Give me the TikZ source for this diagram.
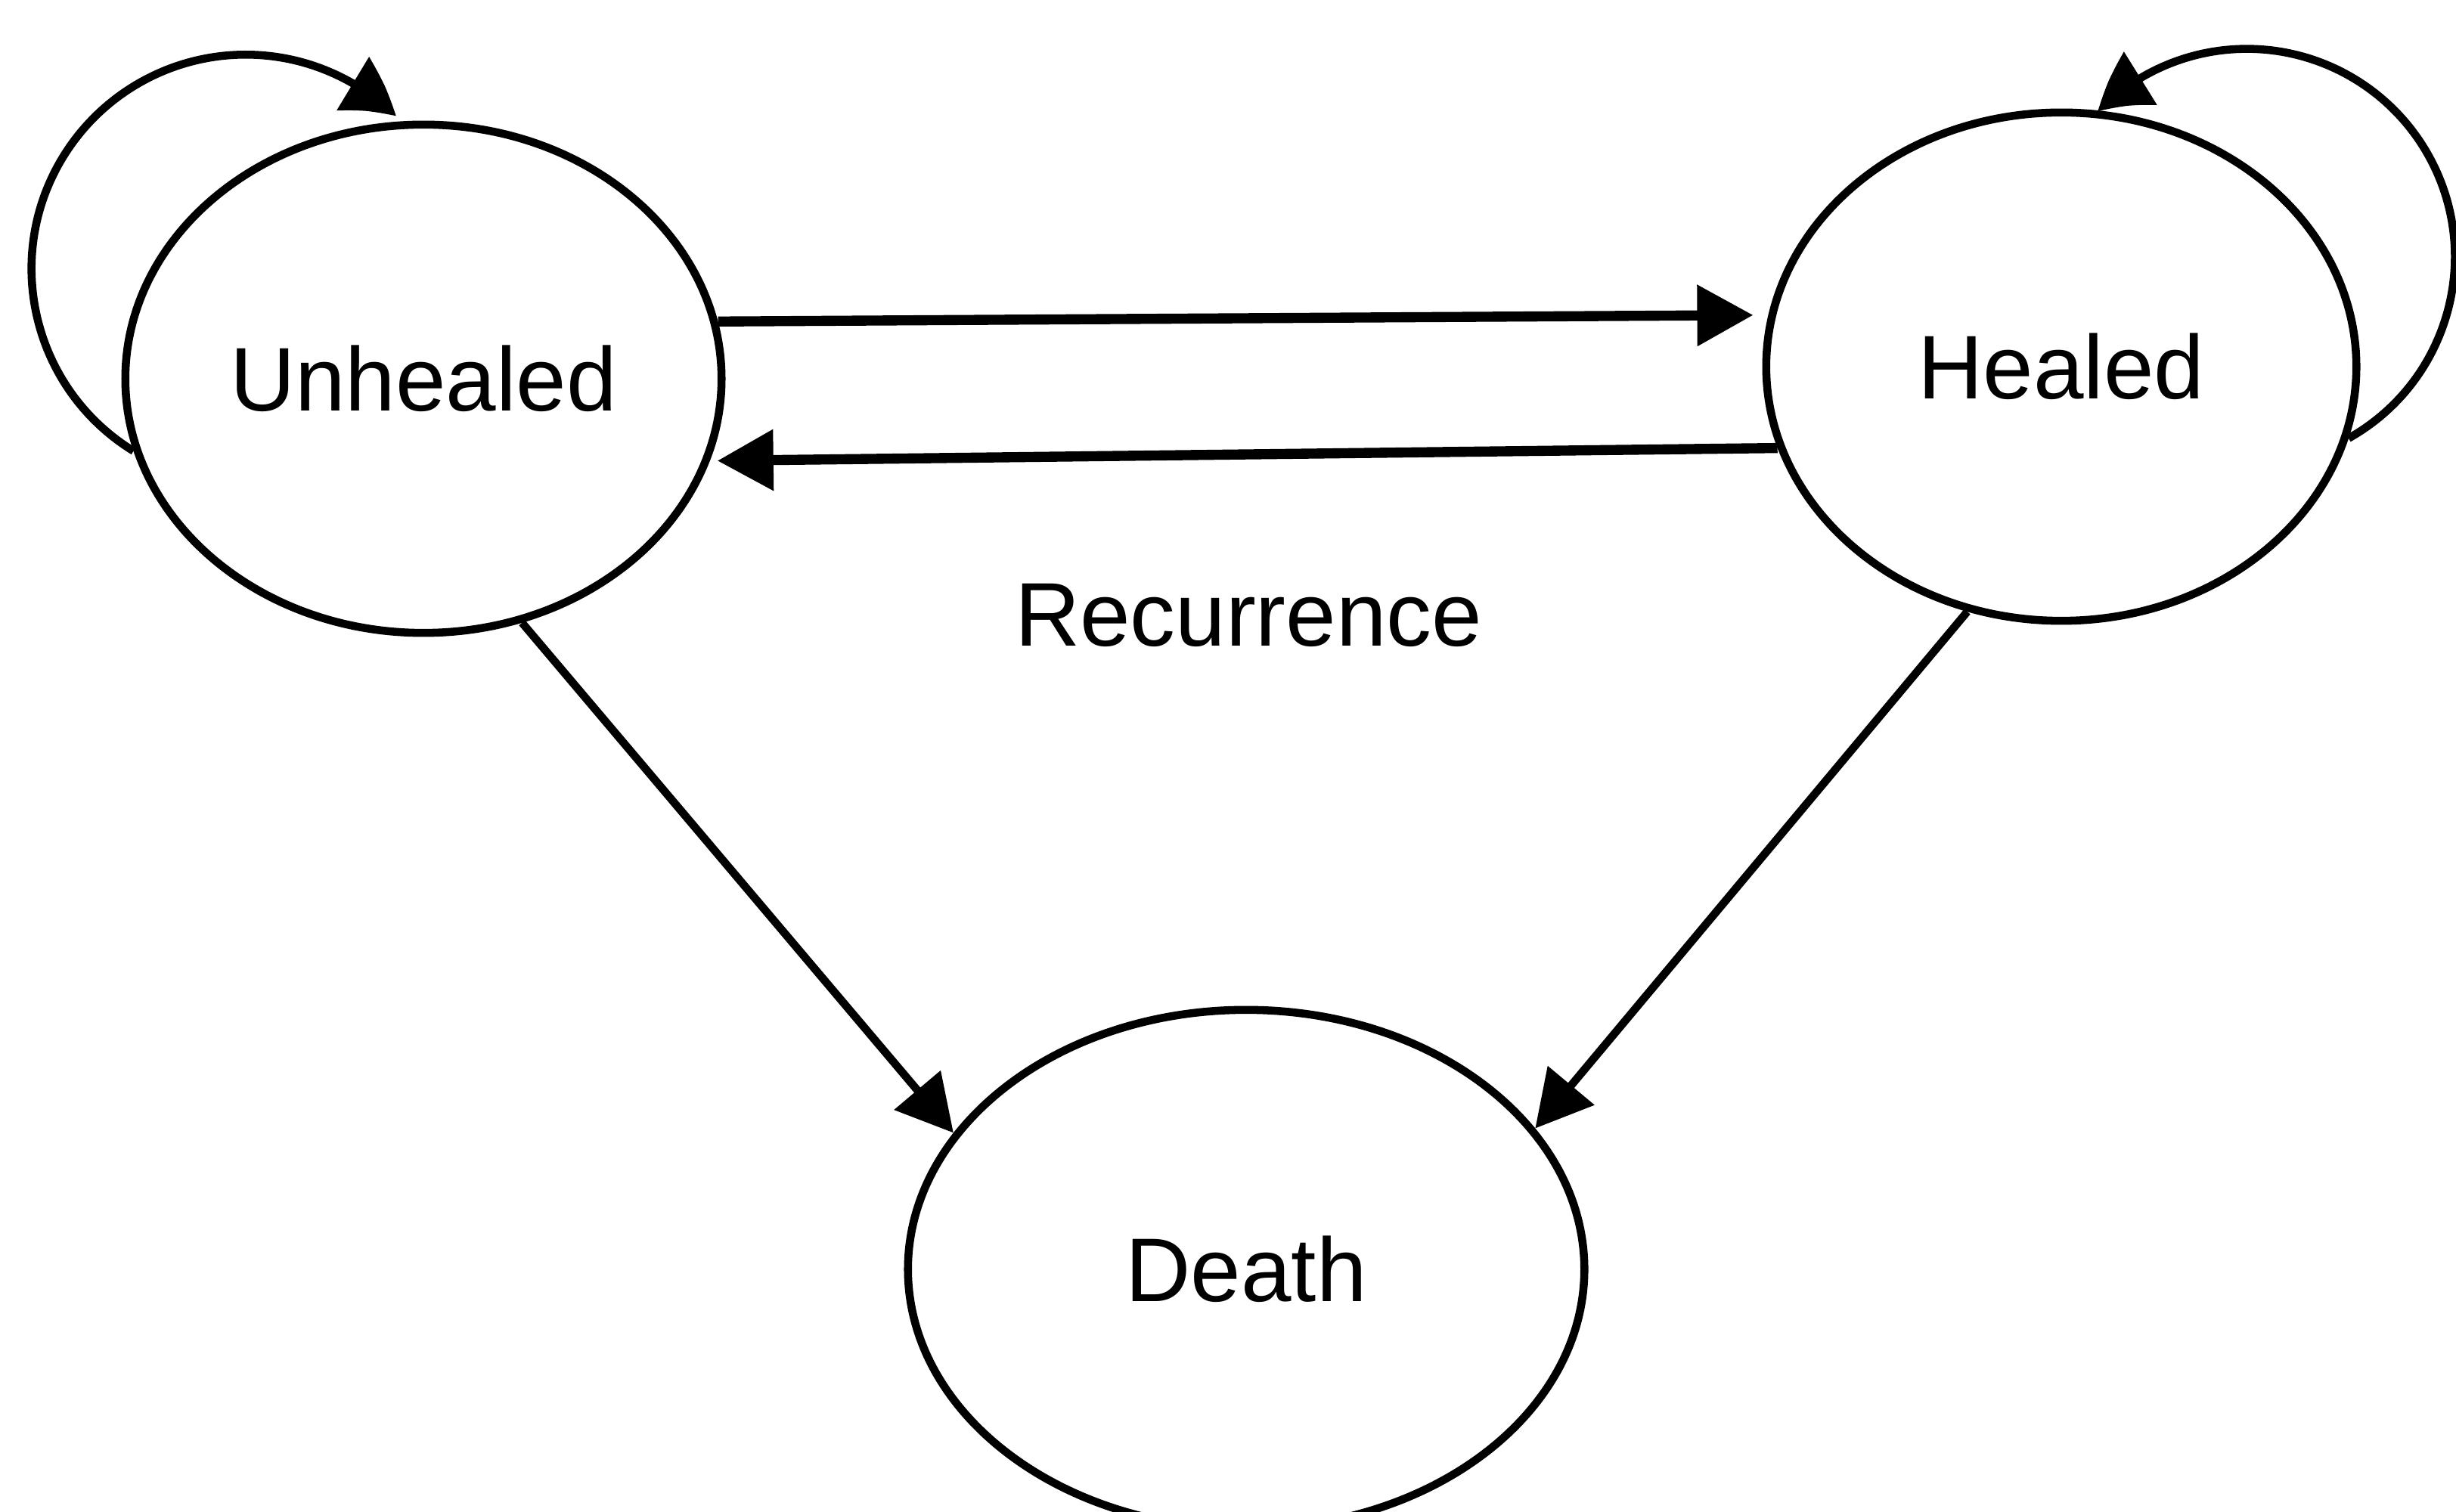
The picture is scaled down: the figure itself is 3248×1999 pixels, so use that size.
\documentclass[tikz,border=0pt]{standalone}
\usepackage{fontspec}
\setmainfont{Liberation Sans}
\usetikzlibrary{shapes.geometric,arrows.meta,bending}
\begin{document}
\begin{tikzpicture}[x=0.01cm,y=0.01cm,
  state/.style={ellipse, draw, line width=3pt, inner sep=0pt,
    font=\fontsize{34}{40}\selectfont},
  head/.style={-{Triangle[length=0.74cm,width=0.78cm]}},
  thickconn/.style={head, line width=3.8pt},
  thinconn/.style={head, line width=3pt},
  loopconn/.style={-{Triangle[length=0.72cm,width=0.8cm,bend]}, line width=3pt},
  lbl/.style={font=\fontsize{34}{40}\selectfont, inner sep=0pt}
]
\useasboundingbox (0,0) rectangle (3248,1999);
\clip (0,0) rectangle (3248,1999);

\node[state, minimum width=7.88cm, minimum height=6.72cm] (U) at (560,1498) {Unhealed};
\node[state, minimum width=7.80cm, minimum height=6.72cm] (H) at (2726,1514) {Healed};
\node[state, minimum width=8.94cm, minimum height=6.86cm] (D) at (1648,320) {Death};

\node[lbl] (rec) at (1651,1185) {Recurrence};

% horizontal transitions
\draw[thickconn, shorten >=0.2cm] (U.11.1) -- (H.170.6);
\draw[thickconn, shorten >=0.1cm] (H.196.9) -- (U.-16.2);

% to death
\draw[thinconn] (U.-68.2) -- (D.155.4);
\draw[thinconn] (H.249.4) -- (D.26);

% self loops
\draw[loopconn] (U.194.6) arc[start angle=238.4, end angle=45.4, radius=2.83cm];
\draw[loopconn] (H.-14.3) arc[start angle=-60.7, end angle=135.7, radius=2.75cm];
\end{tikzpicture}
\end{document}
